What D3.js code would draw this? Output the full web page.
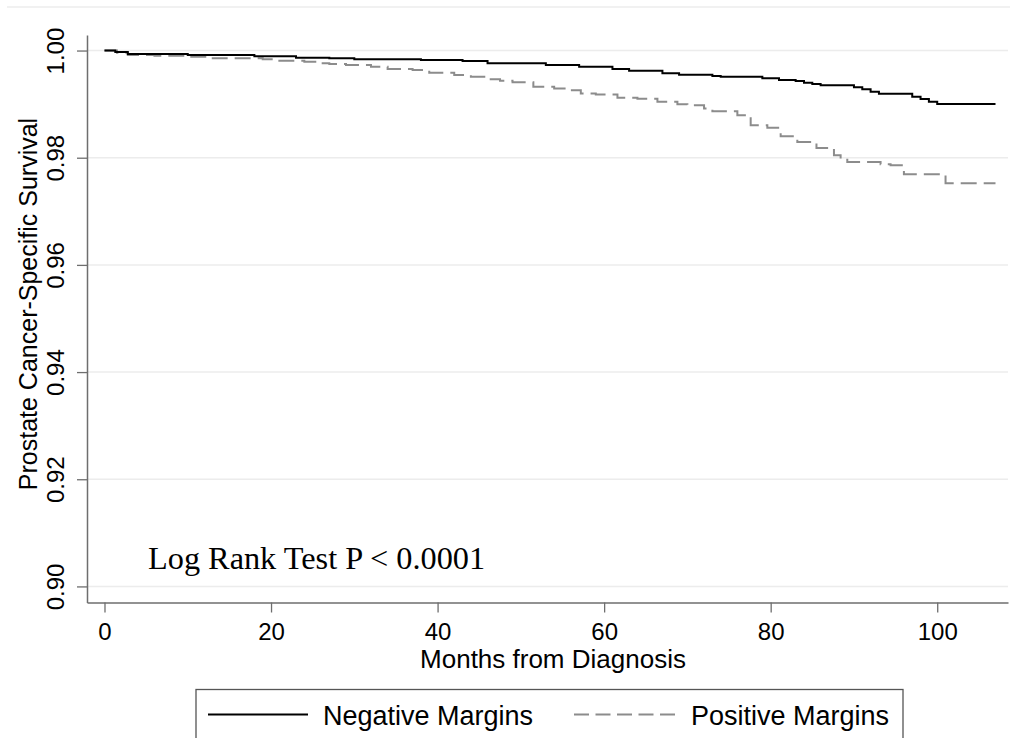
<!DOCTYPE html>
<html>
<head>
<meta charset="utf-8">
<script src="https://cdn.jsdelivr.net/npm/d3@7"></script>
<style>
  body { margin: 0; background: #fff; }
  svg { display: block; }
  text { font-family: "Liberation Sans", Arial, sans-serif; fill: #000; }
</style>
</head>
<body>
<script>
// Kaplan-Meier step points (months, survival)
let negTime = [0, 1.3, 2.8, 10, 18, 23, 27, 30, 38, 43, 46, 53, 57, 61, 63, 67, 69, 73, 74, 79, 81, 83, 84, 85, 86, 90, 91, 92, 93, 97, 98, 99, 100, 107];
let negSurv = [1, 0.99972, 0.99935, 0.99916, 0.99892, 0.99866, 0.99854, 0.99836, 0.99823, 0.99804, 0.99761, 0.9973, 0.99698, 0.99655, 0.99623, 0.99575, 0.99549, 0.99524, 0.99511, 0.99481, 0.9945, 0.99431, 0.99399, 0.99375, 0.99351, 0.99313, 0.99276, 0.99231, 0.99194, 0.99138, 0.99095, 0.99045, 0.99002, 0.99002];

let posTime = [0, 1.5, 2.8, 6, 10, 13, 19, 21, 24, 25.5, 27, 29, 32, 34, 37, 39, 42, 44, 46, 47.5, 49, 51.5, 54, 56, 57.2, 59, 61.6, 64, 66.4, 68.8, 70, 72, 73, 76, 77.6, 79.6, 81.2, 83.2, 85.5, 87.6, 88.4, 89.2, 93.2, 94.4, 96, 101, 107];
let posSurv = [1, 0.9996, 0.99916, 0.99903, 0.99884, 0.99854, 0.99836, 0.9981, 0.99791, 0.99761, 0.99748, 0.99729, 0.99698, 0.99655, 0.99636, 0.99586, 0.99543, 0.99511, 0.99463, 0.99437, 0.99406, 0.99324, 0.99293, 0.99261, 0.99199, 0.9918, 0.99118, 0.99099, 0.99043, 0.99, 0.98981, 0.98918, 0.98869, 0.98794, 0.98606, 0.98557, 0.98401, 0.98295, 0.98183, 0.98046, 0.97984, 0.97921, 0.97878, 0.9786, 0.97692, 0.97522, 0.97522];

let xTicks = [0, 20, 40, 60, 80, 100];
let yTicks = [0.90, 0.92, 0.94, 0.96, 0.98, 1.00];

let seriesNames = ["Negative Margins", "Positive Margins"];
let annotation = "Log Rank Test P < 0.0001";

let width = 1010;
let height = 738;

let svg = d3.select("body").append("svg")
    .attr("width", width)
    .attr("height", height);

// faint outer frame line at top
svg.append("line")
  .attr("x1", 7).attr("x2", width)
  .attr("y1", 7).attr("y2", 7)
  .attr("stroke", "#ececec")
  .attr("stroke-width", 1.5);

let x = d3.scaleLinear().domain([-2.1, 108.5]).range([87, 1008]);
let y = d3.scaleLinear().domain([0.897, 1.0029]).range([602.5, 35]);

// gridlines
svg.append("g")
  .selectAll("line")
  .data(yTicks)
  .enter().append("line")
  .attr("x1", 87).attr("x2", 1008)
  .attr("y1", d => y(d)).attr("y2", d => y(d))
  .attr("stroke", "#ececec")
  .attr("stroke-width", 1.5);

// x axis
let xAxis = svg.append("g")
    .attr("transform", "translate(0," + 602.5 + ")")
    .call(d3.axisBottom(x).tickValues(xTicks).tickSize(10).tickPadding(10).tickSizeOuter(0).tickFormat(d3.format("d")));

// y axis
let yAxis = svg.append("g")
    .attr("transform", "translate(87,0)")
    .call(d3.axisLeft(y).tickValues(yTicks).tickSize(10).tickSizeOuter(0).tickFormat(d3.format(".2f")));

for (let ax of [xAxis, yAxis]) {
  ax.select(".domain").attr("stroke", "#6e6e6e").attr("stroke-width", 1.5);
  ax.selectAll(".tick line").attr("stroke", "#6e6e6e").attr("stroke-width", 1.3);
  ax.selectAll(".tick text")
    .style("font-family", "'Liberation Sans', Arial, sans-serif")
    .style("font-size", "24px")
    .attr("fill", "#000");
}

// rotated y tick labels, Stata style
yAxis.selectAll(".tick text")
  .attr("x", null)
  .attr("dy", null)
  .attr("text-anchor", "middle")
  .attr("transform", "translate(-23,0) rotate(-90)");

xAxis.selectAll(".tick text").attr("dy", "0.71em");

// axis titles
svg.append("text")
  .attr("x", 553)
  .attr("y", 668)
  .attr("text-anchor", "middle")
  .style("font-size", "26px")
  .text("Months from Diagnosis");

svg.append("text")
  .attr("transform", "translate(37,304) rotate(-90)")
  .attr("text-anchor", "middle")
  .style("font-size", "25px")
  .text("Prostate Cancer-Specific Survival");

// survival curves
function series(times, surv) {
  return times.map((t, i) => ({t: t, s: surv[i]}));
}

let line = d3.line()
    .x(d => x(d.t))
    .y(d => y(d.s))
    .curve(d3.curveStepAfter);

svg.append("path")
  .datum(series(posTime, posSurv))
  .attr("d", line)
  .attr("fill", "none")
  .attr("stroke", "#8c8c8c")
  .attr("stroke-width", 2)
  .attr("stroke-dasharray", "16,7");

svg.append("path")
  .datum(series(negTime, negSurv))
  .attr("d", line)
  .attr("fill", "none")
  .attr("stroke", "#000")
  .attr("stroke-width", 2);

// annotation
svg.append("text")
  .attr("x", 148)
  .attr("y", 569)
  .style("font-family", "'Liberation Serif', 'Times New Roman', serif")
  .style("font-size", "32.3px")
  .text(annotation);

// legend
let legend = svg.append("g");

legend.append("rect")
  .attr("x", 196).attr("y", 689.5)
  .attr("width", 707).attr("height", 70)
  .attr("fill", "#fff")
  .attr("stroke", "#555")
  .attr("stroke-width", 1.3);

let legendItems = [
  {name: seriesNames[0], x1: 208, x2: 308, tx: 323, color: "#000", dash: null},
  {name: seriesNames[1], x1: 574, x2: 675, tx: 691, color: "#8c8c8c", dash: "15,6.5"}
];

let item = legend.selectAll("g")
    .data(legendItems)
    .enter().append("g");

item.append("line")
  .attr("x1", d => d.x1).attr("x2", d => d.x2)
  .attr("y1", 714.5).attr("y2", 714.5)
  .attr("stroke", d => d.color)
  .attr("stroke-width", 2)
  .attr("stroke-dasharray", d => d.dash);

item.append("text")
  .attr("x", d => d.tx)
  .attr("y", 724.5)
  .style("font-size", "27px")
  .text(d => d.name);
</script>
</body>
</html>
